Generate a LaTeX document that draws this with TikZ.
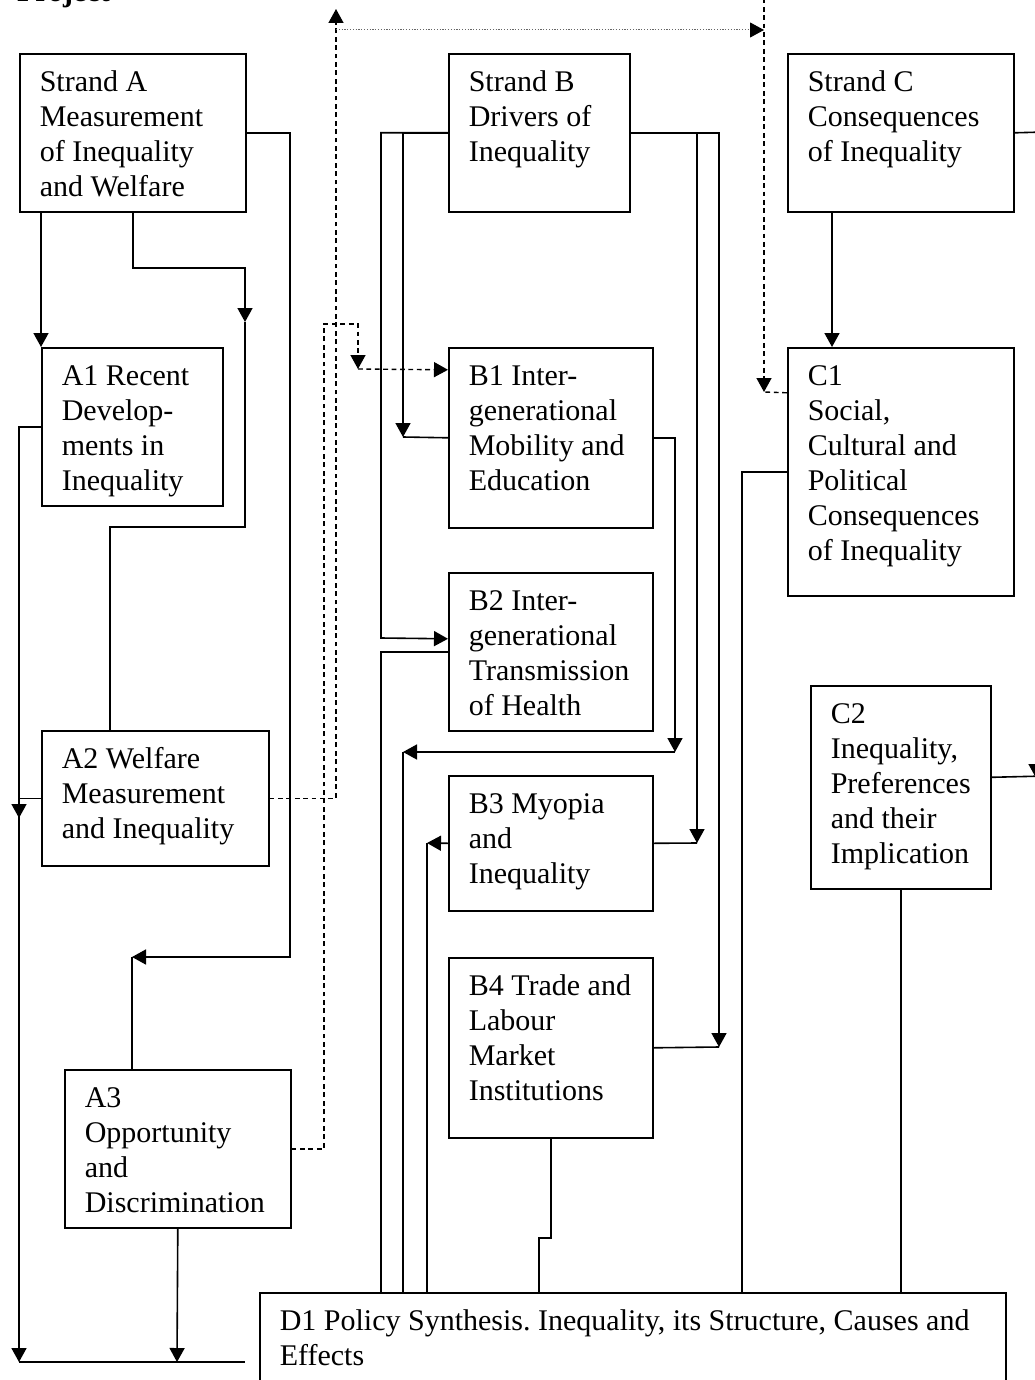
\documentclass[tikz,border=0pt]{standalone}
\usepackage{fontspec}
\setmainfont{Liberation Serif}
\usetikzlibrary{arrows.meta}

\newcommand\pboxfont{\fontsize{15}{17.5}\selectfont\frenchspacing\hyphenpenalty10000\relax}

\tikzset{
	pbox/.style={draw, line width=0.8pt, anchor=north west, align=flush left,
		inner xsep=10pt, inner ysep=0pt, text height=19pt, font=\pboxfont},
	link/.style={line width=0.8pt},
	tip/.style={-{Triangle[length=7pt,width=7.5pt,color=black]}},
	dsh/.style={line width=0.7pt, dash pattern=on 2.4pt off 1.8pt},
	dots/.style={line width=0.5pt, dash pattern=on 0.6pt off 0.8pt, black!60}
}

\begin{document}
\begin{tikzpicture}[x=0.5pt, y=-0.5pt]
	\useasboundingbox (0,0) rectangle (1034,1380);
	\node[anchor=base west, font=\fontsize{15}{17.5}\selectfont\bfseries] (head) at (10,2) {Project};

	%strands
	\node[pbox, text width=93pt, text depth=60pt] (SA) at (19,53) {Strand A\\Measurement\\of Inequality\\and Welfare};
	\node[pbox, text width=70.5pt, text depth=60pt] (SB) at (448,53) {Strand B\\Drivers of\\Inequality};
	\node[pbox, text width=93pt, text depth=60pt] (SC) at (787,53) {Strand C\\Consequences\\of Inequality};

	%projects A
	\node[pbox, text width=70.5pt, text depth=60pt] (A1) at (41,347) {A1 Recent\\Develop-\\ments in\\Inequality};
	\node[pbox, text width=93.5pt, text depth=48.5pt] (A2) at (41,730) {A2 Welfare\\Measurement\\and Inequality};
	\node[pbox, text width=93pt, text depth=60pt] (A3) at (64,1069) {A3\\Opportunity\\and\\Discrimination};

	%projects B
	\node[pbox, text width=82pt, text depth=71pt] (B1) at (448,347) {B1 Inter-\\generational\\Mobility and\\Education};
	\node[pbox, text width=82pt, text depth=60pt] (B2) at (448,572) {B2 Inter-\\generational\\Transmission\\of Health};
	\node[pbox, text width=82pt, text depth=48.5pt] (B3) at (448,775) {B3 Myopia\\and\\Inequality};
	\node[pbox, text width=82pt, text depth=71pt] (B4) at (448,957) {\mbox{B4 Trade and}\\Labour\\Market\\Institutions};

	%projects C
	\node[pbox, text width=93pt, text depth=105pt] (C1) at (787,347) {C1\\Social,\\Cultural and\\Political\\Consequences\\of Inequality};
	\node[pbox, text width=70pt, text depth=82.5pt] (C2) at (810,685) {C2\\Inequality,\\Preferences\\and their\\Implication};

	%synthesis
	\node[pbox, text width=353pt, text depth=40pt] (D1) at (259,1292) {\mbox{D1 Policy Synthesis. Inequality, its Structure, Causes and}\\Effects};

	%strand A links
	\draw[link, tip] (SA.south -| A1.north west) -- (A1.north west);
	\draw[link, tip] (SA.south) |- (245,268) -- (245,322);
	\draw[link] ([xshift=34.5pt]A2.north west) |- (245,527) -- (245,322);
	\draw[link, tip] (SA.east) -| (290,957) -- (132,957);
	\draw[link] ([xshift=34pt]A3.north west) -- (132,957);
	\draw[link, tip] (A1.west) -| (19,818);
	\draw[link, tip] (A2.west) -| (19,1362);
	\draw[link, tip] (A3.south) -- (177,1362);
	\coordinate (dIn) at (245,1362);
	\draw[link] (19,1362) -- (dIn);

	%dashed links
	\draw[dsh, tip] (A2.east) -| (336,9);
	\draw[dots, tip] (336,30) -- (764,30);
	\draw[dsh, tip] (764,-10) -- (764,392);
	\draw[dsh] ([yshift=39.5pt]C1.west) -- (764,392);
	\draw[dsh, tip] (A3.east) -| (324,324) -| (358,369);
	\draw[dsh, tip] (358,369) -- ([yshift=34pt]B1.west);

	%strand B links
	\draw[link, tip] (SB.west) -| (403,437);
	\draw[link] (B1.west) -- (403,437);
	\draw[link, tip] (SB.west) -| (381,638) -- ([yshift=6.5pt]B2.west);
	\draw[link, tip] (B1.east) -| (675,752);
	\draw[link, tip] (675,752) -- (403,752);
	\draw[link] (403,752) -- (403,752 |- D1.north);
	\draw[link] (B2.west) -| (D1.north -| 381,0);
	\draw[link, tip] (SB.east) -| (697,843);
	\draw[link] (B3.east) -- (697,843);
	\draw[link, tip] (B3.west) -- (427,843);
	\draw[link] (427,843) -- (427,843 |- D1.north);
	\draw[link, tip] (SB.east) -| (719,1047);
	\draw[link] (B4.east) -- (719,1047);
	\draw[link] (B4.south) |- (539,1238) -- (539,1238 |- D1.north);

	%strand C links
	\draw[link, tip] ([xshift=22.5pt]SC.south west) -- ([xshift=22.5pt]C1.north west);
	\draw[link] (SC.east) -- (1045,132);
	\draw[link] (C1.west) -| (D1.north -| 742,0);
	\draw[link] (C2.south) -- (C2.south |- D1.north);
	\draw[link] ([yshift=5pt]C2.east) -- (1045,776);
	\draw[link, tip] (1036,700) -- (1036,778);
\end{tikzpicture}
\end{document}
